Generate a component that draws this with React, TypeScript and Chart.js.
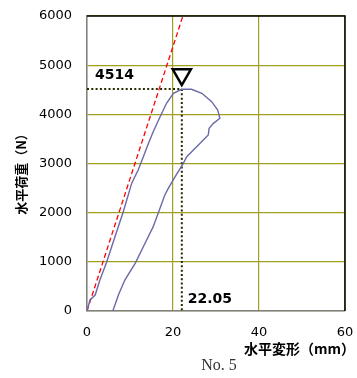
import React, { useEffect, useRef } from "react";
import { Chart, registerables } from "chart.js";

Chart.register(...registerables);

// Load–displacement curve (mm, N)
const curveDisp = [
  0, 0.7, 1.9, 3.0, 4.6, 6.5, 8.4, 10.4, 11.9, 13.1, 14.3, 15.4, 17.0, 18.5, 20.1, 22.0,
  24.3, 26.7, 29.0, 30.4, 30.9, 29.4, 28.4, 28.2, 25.9, 23.2, 22.4, 20.5, 18.9, 18.1,
  15.4, 13.1, 11.2, 8.8, 7.3, 6.5, 6.0,
];
const curveLoad = [
  0, 224, 325, 630, 1003, 1512, 2007, 2600, 2868, 3139, 3411, 3647, 3952, 4224, 4427, 4509,
  4509, 4427, 4257, 4088, 3919, 3817, 3715, 3579, 3376, 3139, 3004, 2731, 2495, 2359,
  1715, 1308, 970, 630, 325, 122, 0,
];
// Initial stiffness line (red dashed)
const stiffDisp = [0, 22.3];
const stiffLoad = [0, 6000];
// Peak values
const peakLoad = 4514;
const peakDisp = 22.05;
// Axes
const xTicks = [0, 20, 40, 60];
const yTicks = [0, 1000, 2000, 3000, 4000, 5000, 6000];
const xTitle = "水平変形（mm）";
const yTitle = "水平荷重（N）";
const caption = "No. 5";

const OLIVE = "#a0a020";
const DOT = "#2a2a00";

export default function App() {
  const ref = useRef<HTMLCanvasElement>(null);
  useEffect(() => {
    document.body.style.margin = "0";
    const canvas = ref.current!;
    const frame = {
      id: "frame",
      beforeDatasetsDraw(chart: any) {
        const c = chart.ctx;
        const a = chart.chartArea;
        c.save();
        c.strokeStyle = "#000";
        c.lineWidth = 1.5;
        c.beginPath();
        c.moveTo(a.left, a.top);
        c.lineTo(a.right, a.top);
        c.lineTo(a.right, a.bottom);
        c.stroke();
        c.restore();
      },
    };
    const annot = {
      id: "annot",
      afterDraw(chart: any) {
        const c = chart.ctx;
        const xs = chart.scales.x;
        const ys = chart.scales.y;
        const a = chart.chartArea;
        const px = xs.getPixelForValue(peakDisp);
        const py = ys.getPixelForValue(peakLoad);
        c.save();
        // triangle marker
        const r = 10.5;
        const apexY = py - 4;
        const topY = apexY - 1.5 * r;
        c.beginPath();
        c.moveTo(px, apexY);
        c.lineTo(px - r * 0.866, topY);
        c.lineTo(px + r * 0.866, topY);
        c.closePath();
        c.lineWidth = 2.5;
        c.strokeStyle = "#000";
        c.stroke();
        // value labels
        c.fillStyle = "#000";
        c.font = "bold 14px 'DejaVu Sans'";
        c.textBaseline = "middle";
        c.textAlign = "left";
        c.fillText(String(peakLoad), a.left + 8, py - 14);
        c.fillText(peakDisp.toFixed(2), px + 6, a.bottom - 12);
        // axis titles
        c.font = "bold 13px 'Noto Sans CJK JP'";
        c.save();
        c.translate(21, 171);
        c.rotate(-Math.PI / 2);
        c.textAlign = "center";
        c.fillText(yTitle, 0, 0);
        c.restore();
        c.font = "bold 14px 'Noto Sans CJK JP'";
        c.textAlign = "left";
        c.fillText(xTitle, 244, 349);
        c.font = "16px 'Liberation Serif'";
        c.fillStyle = "#333";
        c.textAlign = "center";
        c.fillText(caption, 219, 366);
        c.restore();
      },
    };
    const chart = new Chart(canvas, {
      type: "scatter",
      data: {
        datasets: [
          {
            data: curveDisp.map((x, i) => ({ x, y: curveLoad[i] })),
            showLine: true,
            borderColor: "#6a6aa8",
            borderWidth: 1.4,
            pointRadius: 0,
            tension: 0,
          },
          {
            data: stiffDisp.map((x, i) => ({ x, y: stiffLoad[i] })),
            showLine: true,
            borderColor: "#ff0000",
            borderWidth: 1.3,
            borderDash: [5, 3],
            pointRadius: 0,
          },
          {
            data: [
              { x: 0, y: peakLoad },
              { x: peakDisp, y: peakLoad },
            ],
            showLine: true,
            borderColor: DOT,
            borderWidth: 2,
            borderDash: [2, 2.3],
            pointRadius: 0,
          },
          {
            data: [
              { x: peakDisp, y: peakLoad },
              { x: peakDisp, y: 0 },
            ],
            showLine: true,
            borderColor: DOT,
            borderWidth: 2,
            borderDash: [2, 2.3],
            pointRadius: 0,
          },
        ],
      },
      options: {
        responsive: false,
        animation: false,
        layout: { padding: { left: 0, right: 12, top: 16, bottom: 0 } },
        plugins: { legend: { display: false }, tooltip: { enabled: false } },
        scales: {
          x: {
            type: "linear",
            min: 0,
            max: 60,
            afterBuildTicks: (s: any) => {
              s.ticks = xTicks.map((v) => ({ value: v }));
            },
            afterFit: (s: any) => {
              s.height = 67;
              s.paddingLeft = 0;
              s.paddingRight = 0;
            },
            grid: { drawTicks: false, color: OLIVE, lineWidth: 1.2 },
            border: { color: "#808080", width: 1.5 },
            ticks: {
              padding: 14,
              color: "#000",
              font: { family: "DejaVu Sans", size: 13 },
              maxRotation: 0,
            },
          },
          y: {
            type: "linear",
            min: 0,
            max: 6000,
            afterBuildTicks: (s: any) => {
              s.ticks = yTicks.map((v) => ({ value: v }));
            },
            afterFit: (s: any) => {
              s.width = 87;
              s.paddingTop = 0;
              s.paddingBottom = 0;
            },
            grid: { drawTicks: false, color: OLIVE, lineWidth: 1.2 },
            border: { color: "#808080", width: 1.5 },
            ticks: {
              padding: 15,
              color: "#000",
              font: { family: "DejaVu Sans", size: 13 },
              callback: (v: any) => String(v),
            },
          },
        },
      },
      plugins: [frame, annot],
    });
    return () => chart.destroy();
  }, []);
  return (
    <div style={{ width: 357, height: 378, background: "#fff" }}>
      <canvas ref={ref} width={357} height={378} />
    </div>
  );
}
